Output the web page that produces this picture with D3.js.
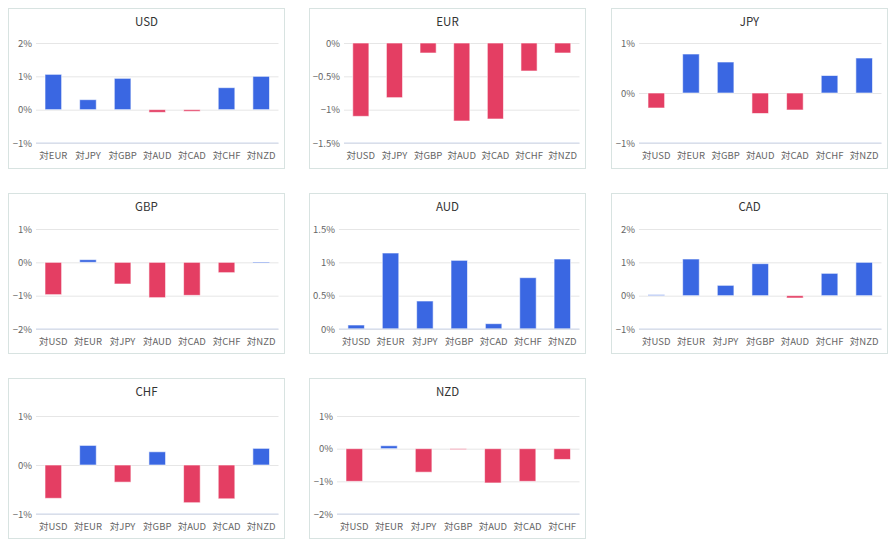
<!DOCTYPE html>
<html>
<head>
<meta charset="utf-8">
<script src="https://cdn.jsdelivr.net/npm/d3@7"></script>
<style>
  html, body { margin: 0; padding: 0; background: #fff; }
  svg { display: block; }
  text { font-family: "Noto Sans CJK JP", "Lato", sans-serif; font-weight: 400; }
</style>
</head>
<body>
<svg id="chart" width="895" height="549"></svg>
<script>
// ---- data ----
const panelTitles = ["USD", "EUR", "JPY", "GBP", "AUD", "CAD", "CHF", "NZD"];

const catsUSD = ["対EUR", "対JPY", "対GBP", "対AUD", "対CAD", "対CHF", "対NZD"];
const catsEUR = ["対USD", "対JPY", "対GBP", "対AUD", "対CAD", "対CHF", "対NZD"];
const catsJPY = ["対USD", "対EUR", "対GBP", "対AUD", "対CAD", "対CHF", "対NZD"];
const catsGBP = ["対USD", "対EUR", "対JPY", "対AUD", "対CAD", "対CHF", "対NZD"];
const catsAUD = ["対USD", "対EUR", "対JPY", "対GBP", "対CAD", "対CHF", "対NZD"];
const catsCAD = ["対USD", "対EUR", "対JPY", "対GBP", "対AUD", "対CHF", "対NZD"];
const catsCHF = ["対USD", "対EUR", "対JPY", "対GBP", "対AUD", "対CAD", "対NZD"];
const catsNZD = ["対USD", "対EUR", "対JPY", "対GBP", "対AUD", "対CAD", "対CHF"];

const valsUSD = [1.06, 0.30, 0.94, -0.08, -0.05, 0.66, 1.00];
const valsEUR = [-1.10, -0.82, -0.15, -1.17, -1.14, -0.42, -0.15];
const valsJPY = [-0.30, 0.78, 0.62, -0.41, -0.34, 0.35, 0.70];
const valsGBP = [-0.97, 0.08, -0.65, -1.06, -0.99, -0.31, 0.01];
const valsAUD = [0.06, 1.14, 0.42, 1.03, 0.08, 0.77, 1.05];
const valsCAD = [0.03, 1.10, 0.31, 0.96, -0.07, 0.67, 1.00];
const valsCHF = [-0.68, 0.40, -0.35, 0.27, -0.77, -0.69, 0.34];
const valsNZD = [-1.00, 0.09, -0.72, -0.01, -1.05, -1.00, -0.33];

const ticksUSD = [-1, 0, 1, 2];
const ticksEUR = [-1.5, -1, -0.5, 0];
const ticksJPY = [-1, 0, 1];
const ticksGBP = [-2, -1, 0, 1];
const ticksAUD = [0, 0.5, 1, 1.5];
const ticksCAD = [-1, 0, 1, 2];
const ticksCHF = [-1, 0, 1];
const ticksNZD = [-2, -1, 0, 1];

const panels = [
  { title: "USD", cats: catsUSD, vals: valsUSD, ticks: ticksUSD },
  { title: "EUR", cats: catsEUR, vals: valsEUR, ticks: ticksEUR },
  { title: "JPY", cats: catsJPY, vals: valsJPY, ticks: ticksJPY },
  { title: "GBP", cats: catsGBP, vals: valsGBP, ticks: ticksGBP },
  { title: "AUD", cats: catsAUD, vals: valsAUD, ticks: ticksAUD },
  { title: "CAD", cats: catsCAD, vals: valsCAD, ticks: ticksCAD },
  { title: "CHF", cats: catsCHF, vals: valsCHF, ticks: ticksCHF },
  { title: "NZD", cats: catsNZD, vals: valsNZD, ticks: ticksNZD }
];

// ---- layout ----
const POS = "#3a67e2", NEG = "#e43e63";
const panelX = [8.5, 309.5, 611.5];
const panelY = [8.5, 193.5, 378.5];
const plotTop = [34.5, 35.5, 37.5];
const plotBottom = [134.5, 135.5, 135.5];
const panelW = 276, panelH = 160;
const LABEL_SIZE = 9.5;

const svg = d3.select("#chart");
const fmt = v => d3.format("")(v) + "%";

const probe = svg.append("text").attr("font-size", LABEL_SIZE).text(fmt(-1));
const baseW = probe.node().getComputedTextLength();
probe.remove();

panels.forEach((p, i) => {
  const row = Math.floor(i / 3);
  const px = panelX[i % 3], py = panelY[row];
  const g = svg.append("g").attr("transform", `translate(${px},${py})`);
  g.append("rect").attr("width", panelW).attr("height", panelH)
    .attr("fill", "#fff").attr("stroke", "#d8e3e1").attr("stroke-width", 1);

  g.append("text").attr("x", panelW / 2).attr("y", 17)
    .attr("text-anchor", "middle").attr("font-size", 11.5).attr("fill", "#333")
    .text(p.title);

  const tmp = g.append("g").attr("font-size", LABEL_SIZE);
  let maxW = 0;
  p.ticks.forEach(t => {
    const tt = tmp.append("text").text(fmt(t));
    maxW = Math.max(maxW, tt.node().getComputedTextLength());
  });
  tmp.remove();

  const left = Math.round(26.5 + (maxW - baseW)) + 0.5;
  const right = panelW - 6;
  const top = plotTop[row], bottom = plotBottom[row];

  const y = d3.scaleLinear().domain(d3.extent(p.ticks)).range([bottom, top]);
  const x = d3.scaleBand().domain(p.cats).range([left, right])
    .paddingInner(0.52).paddingOuter(0.26);

  const yAxis = d3.axisLeft(y).tickValues(p.ticks).tickFormat(fmt)
    .tickSize(-(right - left)).tickPadding(4);
  const ya = g.append("g").attr("transform", `translate(${left},0)`).call(yAxis);
  ya.attr("font-family", null);
  ya.select(".domain").remove();
  ya.selectAll(".tick line").attr("stroke", "#e6e6e6");
  ya.selectAll(".tick text").attr("fill", "#666").attr("font-size", LABEL_SIZE);

  g.append("g").selectAll("rect").data(p.vals).join("rect")
    .attr("x", (d, k) => x(p.cats[k]))
    .attr("width", x.bandwidth())
    .attr("y", d => Math.min(y(d), y(0)))
    .attr("height", d => Math.max(Math.abs(y(d) - y(0)), 1))
    .attr("fill", d => d >= 0 ? POS : NEG)
    .attr("stroke", "#fff").attr("stroke-opacity", 0.6).attr("stroke-width", 1);

  const xAxis = d3.axisBottom(x).tickSize(0).tickPadding(9);
  const xa = g.append("g").attr("transform", `translate(0,${bottom})`).call(xAxis);
  xa.attr("font-family", null);
  xa.select(".domain").attr("stroke", "#ccd6eb").attr("d", `M${left},0H${right}`);
  xa.selectAll(".tick text").attr("fill", "#666").attr("font-size", LABEL_SIZE);
});
</script>
</body>
</html>
